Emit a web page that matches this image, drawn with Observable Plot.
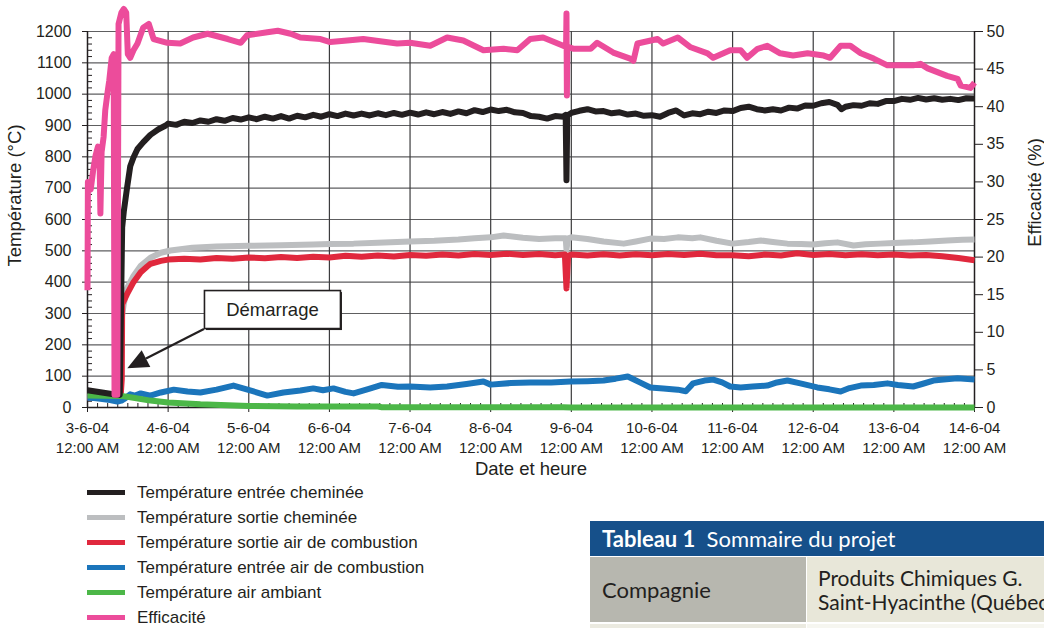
<!DOCTYPE html>
<html><head><meta charset="utf-8">
<script src="https://cdn.jsdelivr.net/npm/d3@7"></script>
<script src="https://cdn.jsdelivr.net/npm/@observablehq/plot@0.6"></script>
<style>
html,body{margin:0;padding:0;background:#fff;}
body{width:1044px;height:628px;overflow:hidden;position:relative;font-family:"Liberation Sans",Arial,Helvetica,sans-serif;color:#231f20;}
#chart{position:absolute;left:0;top:0;}
#legend{position:absolute;left:87px;top:480px;}
#legend .row{height:25px;display:flex;align-items:center;}
#legend .sw{width:38px;height:5px;margin-right:12px;}
#legend .lb{font-size:17px;line-height:25px;white-space:nowrap;}
#tbl{position:absolute;left:590px;top:521px;width:620px;font-family:Lato,"Open Sans",sans-serif;}
#tbl .hd{height:35px;background:#16508a;color:#fff;font-size:22px;line-height:35px;padding-left:12px;white-space:nowrap;}
#tbl .hd b{font-weight:700;}
#tbl .r1{display:flex;height:65px;margin-top:1px;}
#tbl .c1{width:216px;background:#b7b7af;font-size:22px;display:flex;align-items:center;padding-left:12px;box-sizing:border-box;color:#231f20;}
#tbl .c2{flex:1;margin-left:1px;background:#e8e7d9;font-size:21px;display:flex;flex-direction:column;justify-content:center;padding-left:11px;white-space:nowrap;color:#231f20;}
#tbl .c2 span{display:block;height:24px;line-height:24px;}
#tbl .r2{display:flex;height:10px;margin-top:2px;}
#tbl .r2 .a{width:216px;background:#ebeae0;}
#tbl .r2 .b{flex:1;margin-left:1px;background:#f6f6f0;}
</style>
</head><body>
<div id="chart"></div>
<div id="legend"></div>
<div id="tbl">
  <div class="hd"><b>Tableau 1</b>&nbsp; Sommaire du projet</div>
  <div class="r1"><div class="c1">Compagnie</div><div class="c2"><span>Produits Chimiques G.</span><span>Saint-Hyacinthe (Québec)</span></div></div>
  <div class="r2"><div class="a"></div><div class="b"></div></div>
</div>
<script>
// ---- Tick labels / axes ----
const dayLabels = ["3-6-04","4-6-04","5-6-04","6-6-04","7-6-04","8-6-04","9-6-04","10-6-04","11-6-04","12-6-04","13-6-04","14-6-04"];
const timeLabel = "12:00 AM";
const tempTicks = [0,100,200,300,400,500,600,700,800,900,1000,1100,1200];
const effTicks = [0,5,10,15,20,25,30,35,40,45,50];
const xTitle = "Date et heure";
const yTitle = "Température (°C)";
const y2Title = "Efficacité (%)";

// ---- Series names & colours ----
const seriesNames = ["Température entrée cheminée","Température sortie cheminée","Température sortie air de combustion","Température entrée air de combustion","Température air ambiant","Efficacité"];
const seriesColors = ["#231f20","#bcbec0","#e0283d","#1b75bb","#4cb748","#ec4c9b"];

// ---- Data: [days since 3-6-04 12:00 AM, value] ----
const entreeCheminee = [
 [0,55],[0.1,51],[0.2,47],[0.3,43],[0.4,40],[0.43,575],[0.45,625],[0.49,700],[0.53,770],[0.57,798],[0.62,825],[0.69,846],[0.78,870],[0.88,888],[0.97,900],
 [1.0,906],[1.1,902],[1.2,912],[1.3,908],[1.4,916],[1.5,912],[1.6,920],[1.7,915],[1.8,924],[1.9,919],
 [2.0,926],[2.1,920],[2.2,928],[2.3,922],[2.4,930],[2.5,922],[2.6,931],[2.7,926],[2.8,934],[2.9,928],
 [3.0,936],[3.1,930],[3.2,938],[3.3,932],[3.4,938],[3.5,932],[3.6,939],[3.7,933],[3.8,940],[3.9,934],
 [4.0,941],[4.1,935],[4.2,942],[4.3,936],[4.4,943],[4.5,937],[4.6,945],[4.7,939],[4.8,949],[4.9,943],
 [5.0,951],[5.1,946],[5.2,950],[5.3,942],[5.4,940],[5.5,930],[5.6,928],[5.7,922],[5.8,930],[5.9,928],[5.93,934],[5.94,725],[5.95,932],
 [6.0,940],[6.1,947],[6.2,952],[6.3,945],[6.4,946],[6.5,939],[6.6,942],[6.7,935],[6.8,938],[6.9,931],
 [7.0,933],[7.1,928],[7.2,940],[7.3,948],[7.4,932],[7.5,939],[7.6,936],[7.7,944],[7.8,940],[7.9,948],
 [8.0,946],[8.1,956],[8.2,960],[8.3,952],[8.4,948],[8.5,952],[8.6,948],[8.7,957],[8.8,954],[8.9,964],
 [9.0,963],[9.1,971],[9.2,975],[9.3,966],[9.35,952],[9.4,960],[9.5,965],[9.6,963],[9.7,971],[9.8,969],[9.9,978],
 [10.0,978],[10.1,985],[10.2,982],[10.3,988],[10.4,983],[10.5,987],[10.6,982],[10.7,985],[10.8,981],[10.9,987],[11.0,986]
];
const sortieCheminee = [
 [0,34],[0.41,34],[0.42,280],[0.45,330],[0.49,380],[0.57,420],[0.66,452],[0.78,478],[0.91,494],[1.03,501],
 [1.3,510],[1.6,514],[2.0,516],[2.4,518],[2.8,520],[3.0,522],[3.3,523],[3.6,526],[4.0,530],[4.3,532],[4.6,536],[4.8,540],
 [5.0,543],[5.16,549],[5.4,542],[5.6,538],[5.8,540],[5.93,540],[5.94,505],[5.96,540],[6.0,543],[6.2,538],[6.4,530],[6.65,523],[6.8,530],[6.98,539],
 [7.15,538],[7.32,543],[7.5,540],[7.6,543],[7.8,532],[8.0,523],[8.2,528],[8.35,533],[8.5,528],[8.68,523],[8.85,522],
 [9.0,520],[9.15,524],[9.3,527],[9.5,517],[9.65,521],[9.83,523],[10.0,525],[10.24,527],[10.45,530],[10.66,533],[10.85,535],[11.0,536]
];
const sortieAir = [
 [0,32],[0.41,32],[0.425,90],[0.43,330],[0.49,362],[0.57,400],[0.66,432],[0.74,450],[0.78,458],[0.91,468],
 [1.0,472],[1.2,475],[1.4,472],[1.6,477],[1.8,475],[2.0,479],[2.2,476],[2.4,480],[2.6,477],[2.8,481],
 [3.0,479],[3.2,484],[3.4,481],[3.6,485],[3.8,482],[4.0,487],[4.2,484],[4.4,488],[4.6,485],[4.8,490],
 [5.0,487],[5.2,491],[5.4,487],[5.6,490],[5.8,486],[5.92,488],[5.94,380],[5.96,485],
 [6.0,488],[6.2,485],[6.4,489],[6.6,485],[6.8,489],[7.0,486],[7.2,490],[7.4,487],[7.6,491],[7.8,486],
 [8.0,486],[8.2,483],[8.4,488],[8.6,485],[8.8,492],[9.0,487],[9.2,490],[9.4,486],[9.6,489],[9.8,486],
 [10.0,488],[10.2,485],[10.4,487],[10.6,483],[10.8,477],[11.0,470]
];
const entreeAir = [
 [0,31],[0.08,30],[0.16,28],[0.28,24],[0.37,19],[0.42,22],[0.47,30],[0.53,42],[0.59,38],[0.66,45],[0.78,38],[0.91,48],
 [1.07,57],[1.24,51],[1.4,48],[1.6,57],[1.81,70],[2.05,52],[2.23,38],[2.43,48],[2.64,54],[2.8,61],[2.92,55],
 [3.05,61],[3.2,50],[3.3,45],[3.5,60],[3.65,72],[3.85,66],[4.0,67],[4.25,64],[4.46,67],[4.7,75],[4.91,83],
 [5.0,73],[5.25,78],[5.49,80],[5.75,80],[5.99,83],[6.2,84],[6.4,86],[6.55,92],[6.7,99],[6.85,80],[6.98,64],
 [7.14,61],[7.32,57],[7.42,52],[7.51,77],[7.65,86],[7.76,89],[7.87,80],[7.97,67],[8.1,64],[8.25,67],[8.43,70],
 [8.55,80],[8.68,86],[8.84,77],[9.05,64],[9.2,58],[9.34,51],[9.45,62],[9.59,70],[9.75,72],[9.92,77],
 [10.05,72],[10.24,67],[10.35,75],[10.49,86],[10.65,90],[10.79,93],[11.0,89]
];
const airAmbiant = [
 [0,38],[0.42,37],[0.55,32],[0.78,22],[1.0,16],[1.4,10],[2.0,5],[2.6,3],[3.6,3],[3.65,1],[5.9,1],[6.0,0],[11.0,0]
];
// Efficacité in %
const efficacite = [
 [0,15.6],[0.005,30],[0.04,29],[0.07,31.5],[0.1,33.5],[0.13,34.7],[0.15,33],[0.16,25.8],[0.175,34],[0.2,36],[0.22,39.5],
 [0.25,42],[0.27,43.5],[0.3,46.5],[0.325,47],[0.335,1.7],[0.37,1.7],[0.385,51],[0.42,52.5],[0.45,53],[0.48,52.5],
 [0.5,47],[0.53,46.5],[0.57,47.5],[0.62,48.4],[0.69,50.5],[0.76,51],[0.82,49],[0.99,48.5],[1.15,48.4],[1.31,49.2],
 [1.49,49.7],[1.74,49],[1.9,48.5],[1.98,49.5],[2.23,49.9],[2.36,50.1],[2.52,49.7],[2.64,49.2],[2.89,49],[3.01,48.6],
 [3.22,48.8],[3.42,49],[3.84,48.4],[4.0,48.5],[4.25,48.1],[4.46,49.2],[4.66,48.8],[4.91,47.5],[5.16,47.7],[5.33,47.5],
 [5.49,49],[5.65,49.2],[5.9,48.1],[5.935,48],[5.94,52.4],[5.945,41.5],[5.95,48],[6.03,47.7],[6.24,47.7],[6.32,48.5],
 [6.52,47.2],[6.73,46.4],[6.77,46.1],[6.82,48.4],[7.07,49],[7.14,48.4],[7.32,49.2],[7.48,47.9],[7.69,47.1],[7.76,46.5],
 [7.97,47.5],[8.1,47.5],[8.18,46.5],[8.31,47.7],[8.43,48.1],[8.59,47.1],[8.75,46.8],[8.93,47.1],[9.13,46.8],[9.21,46.5],
 [9.34,48.1],[9.46,48.1],[9.59,47.1],[9.75,46.4],[9.92,45.5],[10.08,45.5],[10.24,45.5],[10.33,45.7],[10.42,45.1],
 [10.54,44.6],[10.66,44.1],[10.79,43.7],[10.83,42.8],[10.95,42.5],[11.0,43.2]
];

// ---- Annotation ----
const calloutText = "Démarrage";
const calloutCenter = [2.30, 311];   // [day, °C]
const arrowFrom = [1.45, 249];
const arrowTo = [0.50, 124];

// ---- Build ----
const tempMax = tempTicks[tempTicks.length - 1];
const effMax = effTicks[effTicks.length - 1];
const effScale = tempMax / effMax;
const dayTicks = dayLabels.map((_, i) => i);
const minorTemp = d3.range(0, tempMax + 1, 20).filter(v => v % 100 !== 0);
const minorDays = d3.range(0, dayLabels.length - 1 + 1e-9, 0.125).filter(v => Math.abs(v - Math.round(v)) > 1e-6);

const seriesData = [sortieCheminee, sortieAir, entreeAir, airAmbiant, entreeCheminee];
const seriesIdx = [1, 2, 3, 4, 0];
const ink = "#231f20";

function calloutMark(index, scales) {
  const {x, y} = scales;
  const g = d3.create("svg:g");
  const x1 = x(arrowFrom[0]), y1 = y(arrowFrom[1]), x2 = x(arrowTo[0]), y2 = y(arrowTo[1]);
  const ang = Math.atan2(y2 - y1, x2 - x1);
  const L = 21, W = 9.5;
  const bx = x2 - L * Math.cos(ang), by = y2 - L * Math.sin(ang);
  g.append("line").attr("x1", x1).attr("y1", y1).attr("x2", bx).attr("y2", by)
    .attr("stroke", ink).attr("stroke-width", 2.2);
  g.append("path")
    .attr("d", `M${x2},${y2}L${bx + W * Math.sin(ang)},${by - W * Math.cos(ang)}L${bx - W * Math.sin(ang)},${by + W * Math.cos(ang)}Z`)
    .attr("fill", ink);
  const cx = x(calloutCenter[0]), cy = y(calloutCenter[1]);
  const bw = 136, bh = 38;
  g.append("rect").attr("x", cx - bw / 2 + 1.5).attr("y", cy - bh / 2 + 1.5).attr("width", bw).attr("height", bh).attr("fill", ink);
  g.append("rect").attr("x", cx - bw / 2).attr("y", cy - bh / 2).attr("width", bw).attr("height", bh)
    .attr("fill", "white").attr("stroke", ink).attr("stroke-width", 1.6);
  g.append("text").attr("x", cx).attr("y", cy).attr("dy", "0.36em").attr("text-anchor", "middle")
    .attr("font-size", 18.5).attr("fill", ink).text(calloutText);
  return g.node();
}

const lineMarks = seriesData.map((d, k) => Plot.line(d, {
  x: p => p[0], y: p => p[1], stroke: seriesColors[seriesIdx[k]],
  strokeWidth: 6, strokeLinejoin: "round", strokeLinecap: "butt"
}));

const chart = Plot.plot({
  width: 1044, height: 482,
  marginLeft: 87, marginRight: 70, marginTop: 31, marginBottom: 75,
  style: {fontFamily: "'Liberation Sans', Arial, Helvetica, sans-serif", fontSize: "16px", color: ink, background: "white", overflow: "visible"},
  x: {domain: [0, dayLabels.length - 1]},
  y: {domain: [0, tempMax]},
  marks: [
    Plot.ruleY(tempTicks.filter(v => v > 0), {stroke: "#5e5e60", strokeWidth: 1.2}),
    Plot.ruleX(dayTicks.slice(1, -1), {stroke: "#3c3c3e", strokeWidth: 1.2}),
    Plot.axisY(tempTicks, {anchor: "left", tickSize: 5, tickPadding: 11, tickFormat: d => String(d), fontSize: 16, label: null, stroke: ink}),
    Plot.axisY(minorTemp, {anchor: "left", tickSize: -5, tickPadding: 0, tickFormat: () => "", label: null, stroke: ink}),
    Plot.axisY(effTicks, {y: d => d * effScale, anchor: "right", tickSize: 8, tickPadding: 4, tickFormat: d => String(d), fontSize: 16, label: null, stroke: ink}),
    Plot.axisX(dayTicks, {anchor: "bottom", tickSize: 5, tickPadding: 7, lineHeight: 1.3, fontSize: 15, tickFormat: i => dayLabels[i] + "\n" + timeLabel, label: null, stroke: ink}),
    Plot.axisX(minorDays, {anchor: "bottom", tickSize: -4, tickPadding: 0, tickFormat: () => "", label: null, stroke: ink}),
    Plot.ruleX([0, dayLabels.length - 1], {stroke: ink, strokeWidth: 1.5}),
    Plot.ruleY([0], {stroke: ink, strokeWidth: 1.5}),
    ...lineMarks,
    Plot.line(efficacite, {x: p => p[0], y: p => p[1] * effScale, stroke: seriesColors[5], strokeWidth: 6, strokeLinejoin: "round", strokeLinecap: "butt"}),
    calloutMark,
    Plot.text([yTitle], {text: d => d, frameAnchor: "left", textAnchor: "middle", lineAnchor: "middle", rotate: -90, dx: -72, dy: -24, fontSize: 18.5}),
    Plot.text([y2Title], {text: d => d, frameAnchor: "right", textAnchor: "middle", lineAnchor: "middle", rotate: -90, dx: 61, dy: -27, fontSize: 18.5}),
    Plot.text([xTitle], {text: d => d, frameAnchor: "bottom", textAnchor: "middle", lineAnchor: "middle", dy: 62, fontSize: 18.5})
  ]
});
document.getElementById("chart").appendChild(chart);

// ---- Legend ----
const legend = d3.select("#legend");
seriesNames.forEach((name, i) => {
  const row = legend.append("div").attr("class", "row");
  row.append("div").attr("class", "sw").style("background", seriesColors[i]);
  row.append("div").attr("class", "lb").text(name);
});
</script>
</body></html>
